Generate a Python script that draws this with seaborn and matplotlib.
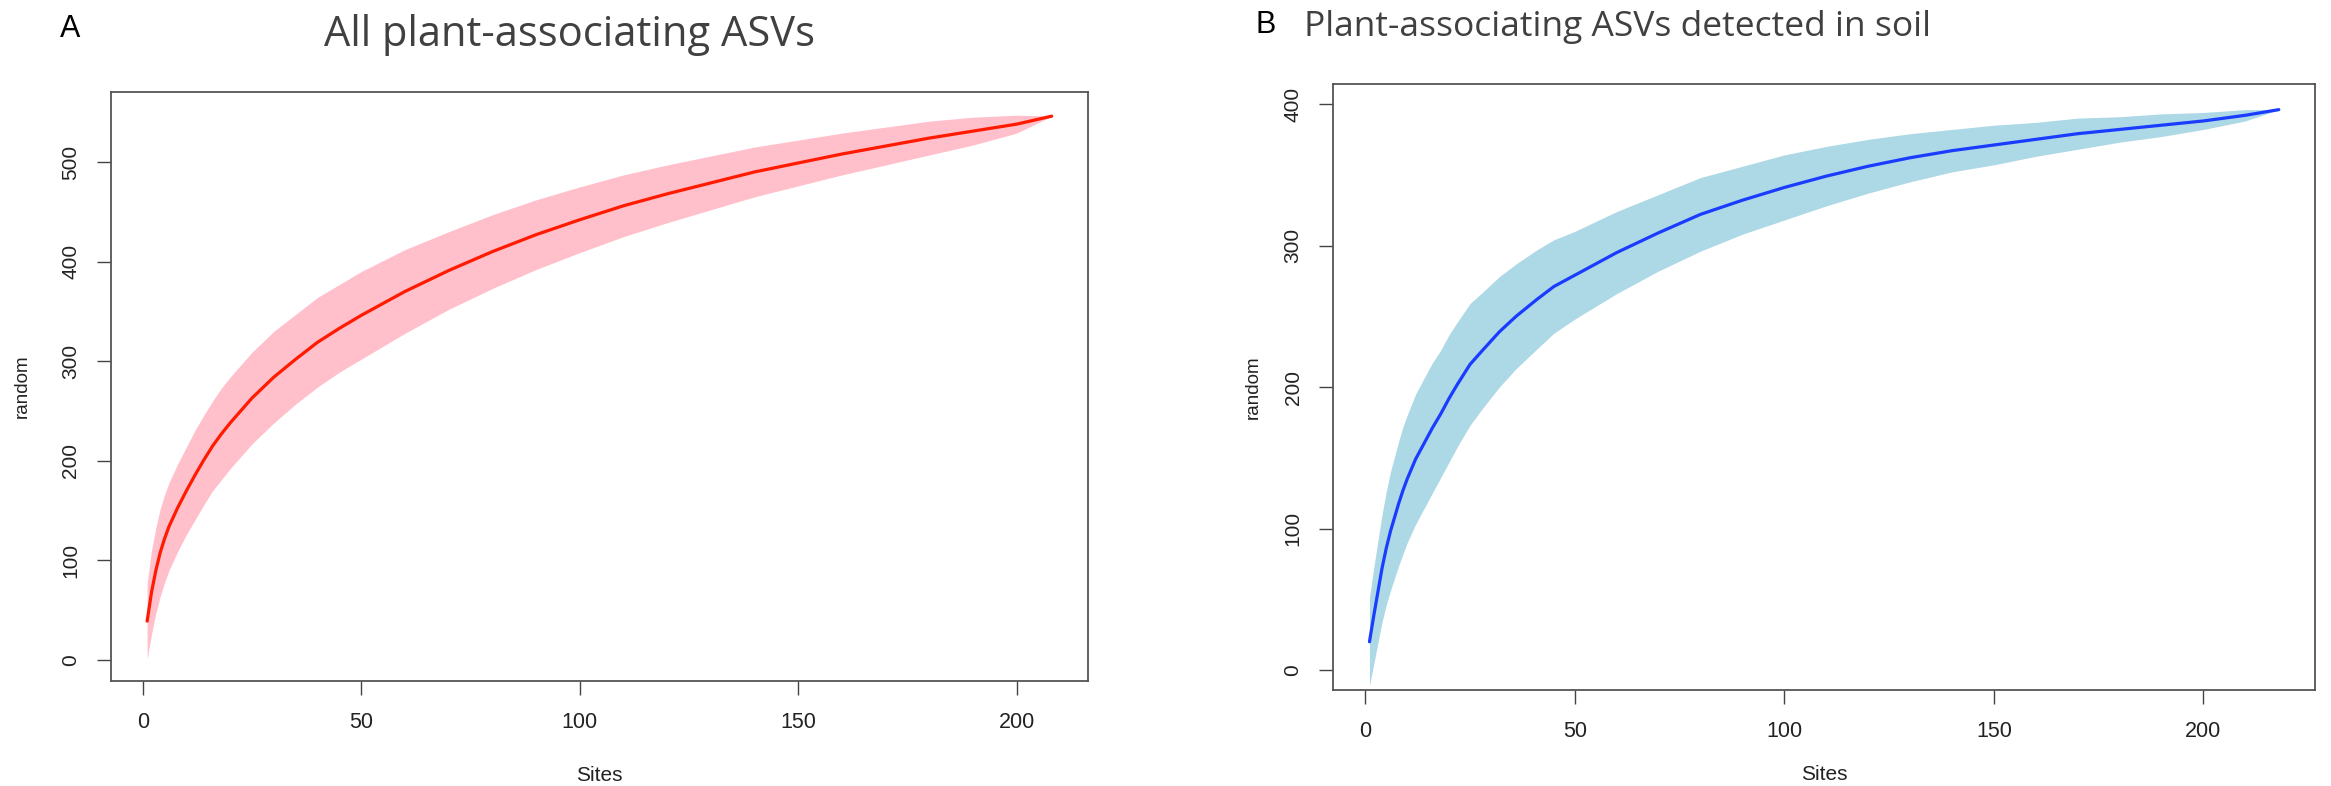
import numpy as np
import pandas as pd
import seaborn as sns
import matplotlib
matplotlib.use("Agg")
import matplotlib.pyplot as plt

# Panel A - all plant-associating ASVs (species accumulation, "random")
sites_a = [1, 2, 3, 4, 5, 6, 8, 10, 12, 14, 16, 18, 20, 25, 30, 35, 40, 45, 50, 60,
           70, 80, 90, 100, 110, 120, 130, 140, 150, 160, 170, 180, 190, 200, 208]
richness_a = [39, 68, 90, 108, 122, 134, 153, 170, 186, 201, 215, 227, 238, 263, 284, 302, 319, 333, 346, 370,
              391, 410, 427, 442, 456, 468, 479, 490, 499, 508, 516, 524, 531, 538, 546]
ci_a = [38, 42, 43, 44, 44, 44, 44, 44, 45, 45, 45, 46, 46, 46, 46, 45, 45, 44, 44, 42,
        39, 37, 35, 33, 31, 29, 27, 25, 23, 21, 19, 17, 14, 9, 0]

# Panel B - plant-associating ASVs detected in soil
sites_b = [1, 2, 3, 4, 5, 6, 7, 8, 9, 10, 12, 14, 16, 18, 20, 22, 25, 28, 32, 36,
           41, 45, 50, 55, 60, 70, 80, 90, 100, 110, 120, 130, 140, 150, 160, 170, 180, 190, 200, 210, 218]
richness_b = [20, 38, 55, 72, 86, 98, 108, 118, 127, 135, 149, 160, 171, 181, 192, 202, 216, 226, 239, 250,
              262, 271, 279, 287, 295, 309, 322, 332, 341, 349, 356, 362, 367, 371, 375, 379, 382, 385, 388, 392, 396]
ci_b = [31, 34, 36, 38, 40, 42, 43, 44, 45, 45, 46, 46, 46, 45, 45, 44, 43, 41, 39, 37,
        35, 33, 31, 30, 29, 27, 26, 24, 23, 21, 19, 17, 15, 14, 12, 11, 9, 8, 6, 4, 0]

xticks = [0, 50, 100, 150, 200]
yticks_a = [0, 100, 200, 300, 400, 500]
yticks_b = [0, 100, 200, 300, 400]

sns.set_style("white")
plt.rcParams["font.family"] = ["Liberation Sans", "DejaVu Sans"]

fig = plt.figure(figsize=(23.31, 7.86), dpi=100)
ax_a = fig.add_axes([0.0476, 0.1336, 0.4191, 0.7494])
ax_b = fig.add_axes([0.5719, 0.1221, 0.4213, 0.7710])


def draw_panel(ax, sites, rich, ci, line_col, band_col, xlim, ylim, yticks, ylab_x, xlab_y):
    df = pd.DataFrame({"Sites": sites, "random": rich})
    df["lo"] = df["random"] - np.array(ci)
    df["hi"] = df["random"] + np.array(ci)
    ax.fill_between(df["Sites"], df["lo"], df["hi"], color=band_col, lw=0)
    sns.lineplot(data=df, x="Sites", y="random", ax=ax, color=line_col, lw=2.3)

    ax.set_xlim(*xlim)
    ax.set_ylim(*ylim)
    ax.set_xticks(xticks)
    ax.set_yticks(yticks)
    ax.tick_params(axis="both", direction="out", length=10, width=1.0, color="#444444",
                   labelcolor="#222222", bottom=True, left=True)
    ax.tick_params(axis="x", labelsize=15.5, pad=12.5)
    ax.tick_params(axis="y", labelsize=15, pad=12, labelrotation=90)
    for lab in ax.get_yticklabels():
        lab.set_verticalalignment("center")

    for sp in ax.spines.values():
        sp.set_visible(True)
        sp.set_color("#555555")
        sp.set_linewidth(1.3)

    ax.set_xlabel("Sites", fontsize=15, color="#222222")
    ax.set_ylabel("random", fontsize=13.5, color="#222222")
    ax.xaxis.set_label_coords(0.5, xlab_y)
    ax.xaxis.label.set_verticalalignment("center")
    ax.yaxis.set_label_coords(ylab_x, 0.5)
    ax.yaxis.label.set_verticalalignment("center")


draw_panel(ax_a, sites_a, richness_a, ci_a, "#ff1a00", "#ffc0cb",
           (-7.28, 216.28), (-21.1, 570.3), yticks_a, -0.091, -0.16)
draw_panel(ax_b, sites_b, richness_b, ci_b, "#1a3cff", "#add8e6",
           (-7.68, 226.68), (-14.1, 414.1), yticks_b, -0.0815, -0.14)

# Panel titles and letters
title_font = ["Open Sans", "DejaVu Sans"]
fig.text(570 / 2331, 1 - 46 / 786, "All plant-associating ASVs", ha="center", va="baseline",
         fontsize=30, color="#404040", family=title_font)
fig.text(1617 / 2331, 1 - 36 / 786, "Plant-associating ASVs detected in soil", ha="center", va="baseline",
         fontsize=25.5, color="#404040", family=title_font)
fig.text(60 / 2331, 1 - 37 / 786, "A", ha="left", va="baseline", fontsize=22, color="black")
fig.text(1255 / 2331, 1 - 33 / 786, "B", ha="left", va="baseline", fontsize=22, color="black")

fig.savefig("out.png", dpi=100, facecolor="white")
